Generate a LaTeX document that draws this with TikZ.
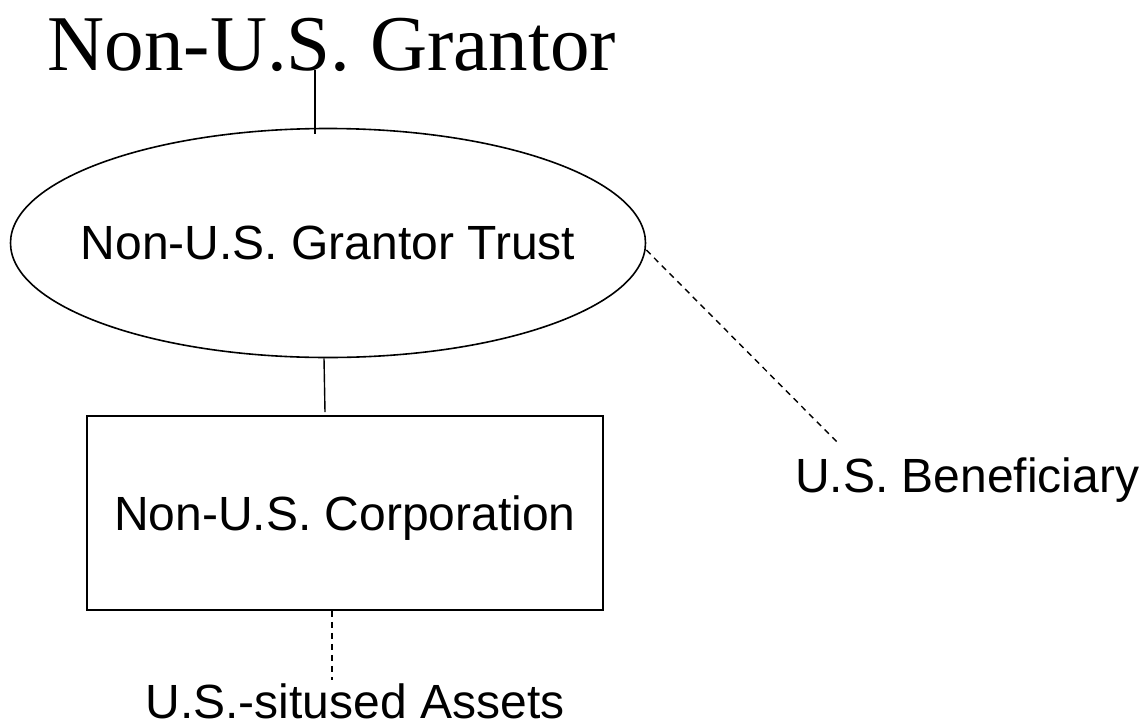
\documentclass[tikz,border=0pt]{standalone}
\usepackage{fontspec}
\setmainfont{Liberation Sans}
\newfontfamily\grantorfont{Liberation Serif}
\usetikzlibrary{shapes.geometric,positioning}

\begin{document}
\begin{tikzpicture}[
    x=1pt, y=-1pt,
    every node/.style={font=\fontsize{48}{56}\selectfont, inner sep=0pt},
    trustshape/.style={draw, ellipse, line width=1.6pt, minimum width=635pt, minimum height=229pt},
    corpbox/.style={draw, rectangle, line width=1.8pt, minimum width=516pt, minimum height=194pt, text depth=0pt},
    link/.style={line width=1.4pt},
    dashlink/.style={line width=1.4pt, dash pattern=on 6pt off 5pt}
]
\useasboundingbox (0,0) rectangle (1139,723);
\node[anchor=base, font=\grantorfont\fontsize{79}{90}\selectfont] (grantor) at (332,70) {Non-U.S. Grantor};
\node[trustshape, label={center:Non-U.S. Grantor Trust}] (trust) at (328,243) {};
\node[corpbox] (corp) at (345,513) {Non-U.S. Corporation};
\node[anchor=base] (assets) at (355,718) {U.S.-sitused Assets};
\node[anchor=base west] (benef) at (795,492) {U.S. Beneficiary};
\coordinate (assetsend) at (332,680);
\coordinate (benefend) at (838,443);

\draw[link] ([xshift=-17pt]grantor.base) -- ([xshift=-13pt,yshift=-6pt]trust.north);
\draw[link] ([xshift=-4pt]trust.south) -- ([xshift=-20pt,yshift=3pt]corp.north);
\draw[dashlink] (corp.south -| assetsend) -- (assetsend);
\draw[dashlink] ([yshift=-7pt]trust.east) -- (benefend);
\end{tikzpicture}
\end{document}
